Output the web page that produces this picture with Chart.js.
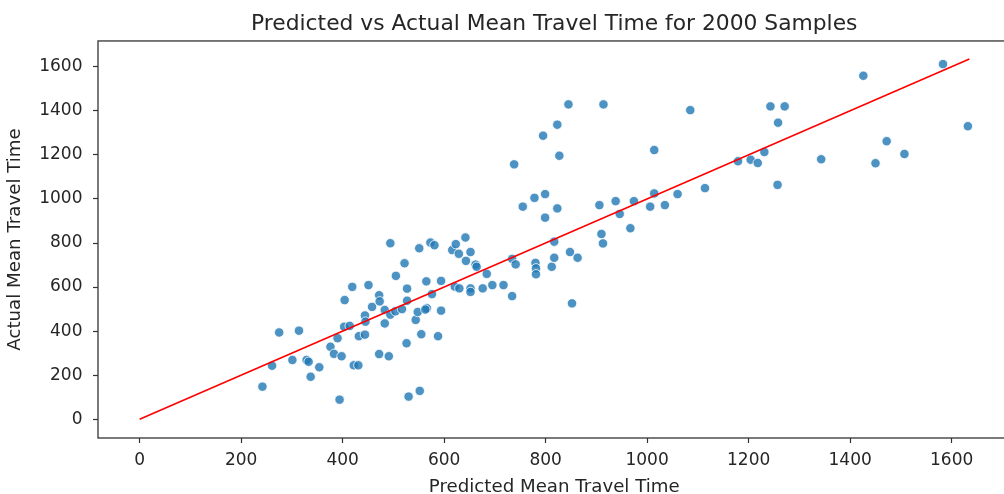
<!DOCTYPE html>
<html>
<head>
<meta charset="utf-8">
<script src="https://cdn.jsdelivr.net/npm/chart.js@4"></script>
<style>
  html, body { margin: 0; padding: 0; background: #fff; overflow: hidden; }
  #wrap { width: 1004px; height: 494px; overflow: hidden; }
</style>
</head>
<body>
<div id="wrap"><canvas id="scatter" width="1016" height="500"></canvas></div>
<script>
// predicted vs actual mean travel time, one entry per sample
const predicted = [242, 261, 275, 314, 301, 329, 333, 337, 354, 376, 383, 390, 394, 398, 404, 403, 414, 419, 422, 431,
  432, 444, 444, 445, 451, 458, 472, 473, 472, 483, 483, 491, 494, 494, 504, 505, 517, 522, 527, 526,
  527, 530, 544, 548, 551, 552, 555, 565, 566, 563, 573, 581, 576, 588, 594, 594, 616, 623, 629, 642,
  643, 652, 662, 664, 621, 630, 652, 652, 676, 684, 695, 717, 734, 734, 741, 780, 781, 781, 812, 817,
  817, 848, 863, 852, 910, 913, 967, 799, 738, 755, 778, 799, 823, 795, 823, 845, 827, 914, 906, 938,
  946, 974, 1006, 1014, 1014, 1035, 1060, 1085, 1114, 1179, 1204, 1218, 1231, 1243, 1271, 1258, 1257, 1343, 1426, 1450,
  1472, 1507, 1583, 1632];
const actual = [148, 243, 394, 402, 269, 269, 261, 193, 236, 329, 297, 368, 89, 286, 541, 420, 424, 601, 245, 245,
  377, 384, 471, 443, 609, 510, 563, 535, 296, 496, 435, 286, 799, 475, 490, 651, 500, 708, 593, 345,
  538, 103, 451, 487, 776, 129, 386, 626, 504, 498, 802, 790, 568, 377, 628, 493, 768, 795, 751, 825,
  719, 759, 702, 692, 602, 594, 594, 578, 594, 660, 609, 609, 559, 728, 703, 710, 685, 658, 692, 806,
  733, 759, 733, 526, 841, 798, 867, 915, 1157, 965, 1005, 1022, 957, 1287, 1337, 1429, 1196, 1429, 972, 990,
  932, 990, 965, 1025, 1222, 972, 1022, 1403, 1049, 1171, 1178, 1163, 1213, 1420, 1420, 1346, 1064, 1180, 1559, 1162,
  1262, 1204, 1612, 1330];

// y = x reference line
const idealLine = [0, 1635];

const xTicks = [0, 200, 400, 600, 800, 1000, 1200, 1400, 1600];
const yTicks = [0, 200, 400, 600, 800, 1000, 1200, 1400, 1600];

const FONT = 'DejaVu Sans';
const TEXT = '#262626';

// axes frame (top / left / bottom spines)
const frame = {
  id: 'frame',
  afterDatasetsDraw(chart) {
    const { ctx, chartArea: a } = chart;
    ctx.save();
    ctx.strokeStyle = '#333';
    ctx.lineWidth = 1.3;
    ctx.strokeRect(a.left, a.top, a.right - a.left, a.bottom - a.top);
    ctx.restore();
  }
};

const plain = v => String(v);

new Chart(document.getElementById('scatter'), {
  type: 'scatter',
  data: {
    datasets: [
      {
        type: 'line',
        data: idealLine.map(v => ({ x: v, y: v })),
        borderColor: 'red',
        borderWidth: 1.6,
        pointRadius: 0,
        fill: false,
        order: 0
      },
      {
        data: predicted.map((p, i) => ({ x: p, y: actual[i] })),
        backgroundColor: 'rgba(31,119,180,0.8)',
        borderColor: '#fff',
        borderWidth: 0.8,
        pointRadius: 4.7,
        order: 1
      }
    ]
  },
  options: {
    responsive: false,
    animation: false,
    layout: { padding: { left: 0, right: 2, top: 0, bottom: 0 } },
    plugins: {
      legend: { display: false },
      tooltip: { enabled: false },
      title: {
        display: true,
        fullSize: false,
        text: 'Predicted vs Actual Mean Travel Time for 2000 Samples',
        color: TEXT,
        font: { family: FONT, size: 21.8, weight: 'normal' },
        padding: { top: 11.5, bottom: 3.3 }
      }
    },
    scales: {
      x: {
        type: 'linear',
        min: -82,
        max: 1716,
        afterBuildTicks: s => { s.ticks = xTicks.map(v => ({ value: v })); },
        afterFit: s => { s.height = 62; },
        grid: { drawOnChartArea: false, drawTicks: true, tickLength: 5, tickColor: '#333', tickWidth: 1.2 },
        border: { display: false },
        ticks: { color: TEXT, padding: 7.5, callback: plain, font: { family: FONT, size: 17 } },
        title: {
          display: true,
          text: 'Predicted Mean Travel Time',
          color: TEXT,
          font: { family: FONT, size: 18.2 },
          padding: { top: 0, bottom: 1.6 }
        }
      },
      y: {
        type: 'linear',
        min: -85,
        max: 1717,
        afterBuildTicks: s => { s.ticks = yTicks.map(v => ({ value: v })); },
        afterFit: s => { s.width = 98; },
        grid: { drawOnChartArea: false, drawTicks: true, tickLength: 5, tickColor: '#333', tickWidth: 1.2 },
        border: { display: false },
        ticks: { color: TEXT, padding: 10.5, callback: plain, font: { family: FONT, size: 17 } },
        title: {
          display: true,
          text: 'Actual Mean Travel Time',
          color: TEXT,
          font: { family: FONT, size: 18.2 },
          padding: { top: 4.5, bottom: 0 }
        }
      }
    }
  },
  plugins: [frame]
});
</script>
</body>
</html>
